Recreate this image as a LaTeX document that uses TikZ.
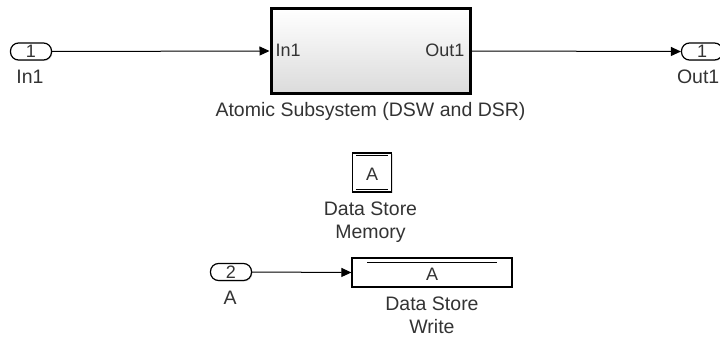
\documentclass[tikz,border=0pt]{standalone}
\usepackage{fontspec}
\setmainfont{Liberation Sans}
\usetikzlibrary{arrows.meta,shadows}
\definecolor{txt}{HTML}{333333}
\tikzset{
  port/.style={draw=black, line width=1.2pt, rounded corners=8pt, minimum width=41pt, minimum height=17pt, inner sep=0pt, fill=white, text=txt, font=\fontsize{18}{20}\selectfont, drop shadow={shadow xshift=1pt, shadow yshift=-1pt, opacity=0.25}},
  lbl/.style={text=txt, font=\fontsize{19.5}{23}\selectfont, align=center, inner sep=0pt},
  inlbl/.style={text=txt, font=\fontsize{18}{20}\selectfont, inner sep=0pt},
  blk/.style={draw=black, line width=1.2pt, fill=white, inner sep=0pt, drop shadow={shadow xshift=1pt, shadow yshift=-1pt, opacity=0.25}},
  sig/.style={line width=1pt, -{Triangle[length=10pt,width=9pt]}},
}
\begin{document}
\begin{tikzpicture}[x=1pt,y=-1pt]
\useasboundingbox (0,0) rectangle (720,337);
% Inport 1
\node[port] (in1) at (31,51.5) {1};
\node[lbl] (in1l) at (30,77) {In1};
% Atomic subsystem
\node[draw=black, line width=3pt, top color=white, bottom color=black!14, minimum width=199pt, minimum height=84pt, inner sep=0pt] (sub) at (370.5,51) {};
\node[inlbl, anchor=west] (subin) at ([xshift=6pt,yshift=1pt]sub.west) {In1};
\node[inlbl, anchor=east] (subout) at ([xshift=-7pt,yshift=1pt]sub.east) {Out1};
\node[lbl] (subl) at (370.5,111) {Atomic Subsystem (DSW and DSR)};
% Outport
\node[port] (out1) at (702,51.5) {1};
\node[lbl, anchor=east] (out1l) at (719.5,77) {Out1};
\draw[sig] (in1.east) -- (sub.west);
\draw[sig] (sub.east) -- (out1.west);
% Data store memory
\node[blk, minimum width=39pt, minimum height=39pt] (dsm) at (372,172.5) {};
\node[inlbl] (dsma) at (372,174) {A};
\draw[line width=0.9pt] ([xshift=4pt,yshift=-3.5pt]dsm.north west) -- ([xshift=-4pt,yshift=-3.5pt]dsm.north east);
\draw[line width=0.9pt] ([xshift=4pt,yshift=3.5pt]dsm.south west) -- ([xshift=-4pt,yshift=3.5pt]dsm.south east);
\node[lbl] (dsml) at (370.5,222) {Data Store\\Memory};
% Inport 2
\node[port] (in2) at (231,272) {2};
\node[lbl] (in2l) at (230,298) {A};
% Data store write
\node[blk, minimum width=160pt, minimum height=29pt] (dsw) at (432,272.5) {};
\node[inlbl] (dswa) at (432,274.5) {A};
\draw[line width=0.9pt] ([xshift=16pt,yshift=-5pt]dsw.north west) -- ([xshift=-16pt,yshift=-5pt]dsw.north east);
\node[lbl] (dswl) at (432,315) {Data Store\\Write};
\draw[sig] (in2.east) -- (dsw.west);
\end{tikzpicture}
\end{document}
